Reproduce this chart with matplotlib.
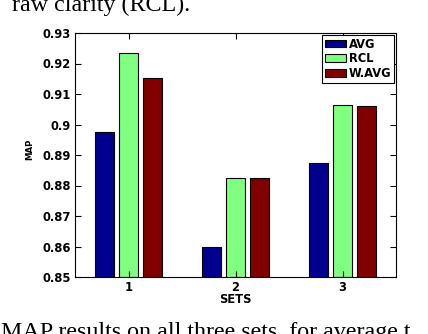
import numpy as np
import matplotlib
matplotlib.use("Agg")
import matplotlib.pyplot as plt

# MAP per set
SETS = ["1", "2", "3"]
AVG = [0.8975, 0.8597, 0.8875]
RCL = [0.9233, 0.8826, 0.9065]
WAVG = [0.9154, 0.8826, 0.9062]
SERIES = [("AVG", AVG, (0, 0, 0.5625)),
          ("RCL", RCL, (0.5, 1, 0.5)),
          ("W.AVG", WAVG, (0.5, 0, 0))]
YTICKS = [0.85, 0.86, 0.87, 0.88, 0.89, 0.90, 0.91, 0.92, 0.93]
YTICKLABELS = ["0.85", "0.86", "0.87", "0.88", "0.89", "0.9", "0.91", "0.92", "0.93"]

plt.rcParams["font.family"] = ["DejaVu Sans"]
plt.rcParams["font.weight"] = "bold"
FS = 8.3

fig = plt.figure(figsize=(4.28, 3.34), dpi=100)
ax = fig.add_axes([75 / 428, 57 / 334, 321 / 428, 244 / 334])

x = np.arange(1, len(SETS) + 1)
w, step = 0.18, 0.225
for i, (name, vals, col) in enumerate(SERIES):
    ax.bar(x + (i - 1) * step, np.array(vals) - 0.85, width=w, bottom=0.85,
           color=col, edgecolor="black", linewidth=0.8, label=name)

ax.set_xlim(0.5, 3.5)
ax.set_ylim(0.85, 0.93)
ax.set_xticks(x)
ax.set_xticklabels(SETS, fontsize=FS, fontweight="bold")
ax.set_yticks(YTICKS)
ax.set_yticklabels(YTICKLABELS, fontsize=FS, fontweight="bold")
ax.tick_params(direction="in", length=4, width=0.8, top=True, right=True, pad=3)
for s in ax.spines.values():
    s.set_linewidth(0.8)
ax.set_xlabel("SETS", fontsize=FS, fontweight="bold", labelpad=-1)
ax.set_ylabel("MAP", fontsize=6.2, fontweight="bold")
ax.yaxis.set_label_coords(-0.128, 0.525)

leg = ax.legend(loc="upper right", frameon=True, fancybox=False,
                borderpad=0.25, labelspacing=0.15, handlelength=1.8,
                handleheight=0.65, handletextpad=0.25, borderaxespad=0.15,
                prop={"weight": "bold", "size": FS})
leg.get_frame().set_edgecolor("black")
leg.get_frame().set_linewidth(0.8)
leg.get_frame().set_alpha(1)

serif = ["Liberation Serif", "DejaVu Serif"]
fig.text(12 / 428, 1 - 11 / 334, "raw clarity (RCL).", family=serif,
         fontsize=17.3, fontweight="normal", va="baseline", ha="left")
fig.text(1 / 428, 1 - 338 / 334, "MAP results on all three sets, for average t",
         family=serif, fontsize=17.3, fontweight="normal", va="baseline", ha="left")

fig.savefig("out.png", dpi=100)
